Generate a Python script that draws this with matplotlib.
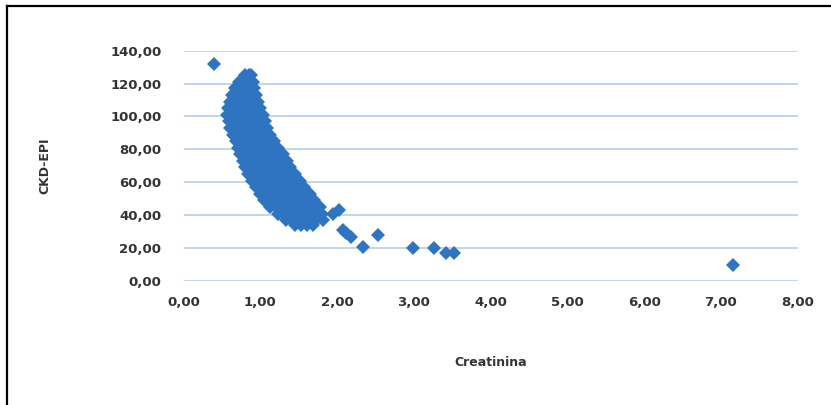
import matplotlib
matplotlib.use("Agg")
import matplotlib.pyplot as plt
from matplotlib.lines import Line2D
from matplotlib.ticker import FuncFormatter

# main band of the scatter, one row per CKD-EPI level
creatinina = [
    0.80, 0.85, 0.88,
    0.72, 0.78, 0.84, 0.90,
    0.67, 0.73, 0.79, 0.85, 0.92,
    0.63, 0.69, 0.75, 0.81, 0.87, 0.94,
    0.60, 0.66, 0.72, 0.78, 0.84, 0.90, 0.97,
    0.58, 0.64, 0.70, 0.76, 0.82, 0.88, 0.94, 1.00,
    0.57, 0.63, 0.69, 0.75, 0.81, 0.87, 0.93, 0.99, 1.03,
    0.59, 0.65, 0.71, 0.77, 0.83, 0.89, 0.95, 1.01, 1.06,
    0.61, 0.67, 0.73, 0.79, 0.85, 0.91, 0.97, 1.03, 1.09,
    0.64, 0.70, 0.76, 0.82, 0.88, 0.94, 1.00, 1.06, 1.13,
    0.68, 0.74, 0.80, 0.86, 0.92, 0.98, 1.04, 1.10, 1.18,
    0.71, 0.77, 0.83, 0.89, 0.95, 1.01, 1.07, 1.14, 1.23,
    0.74, 0.80, 0.86, 0.92, 0.98, 1.04, 1.10, 1.17, 1.29,
    0.77, 0.83, 0.89, 0.95, 1.01, 1.07, 1.14, 1.22, 1.34,
    0.80, 0.86, 0.92, 0.98, 1.05, 1.12, 1.19, 1.27, 1.39,
    0.84, 0.90, 0.97, 1.04, 1.11, 1.18, 1.25, 1.33, 1.45,
    0.89, 0.96, 1.03, 1.10, 1.17, 1.24, 1.31, 1.39, 1.51,
    0.94, 1.01, 1.08, 1.16, 1.24, 1.32, 1.40, 1.48, 1.57,
    0.99, 1.07, 1.15, 1.23, 1.31, 1.39, 1.47, 1.55, 1.64,
    1.05, 1.13, 1.21, 1.29, 1.37, 1.45, 1.53, 1.61, 1.70,
    1.12, 1.20, 1.28, 1.36, 1.44, 1.52, 1.60, 1.68, 1.77,
    1.23, 1.31, 1.39, 1.47, 1.55, 1.63, 1.71, 1.80,
    1.33, 1.41, 1.49, 1.57, 1.65, 1.73, 1.82,
    1.45, 1.53, 1.61, 1.69,
]
ckd_epi = (
    [125] * 3 + [121] * 4 + [117] * 5 + [113] * 6 + [109] * 7 + [105] * 8
    + [101] * 9 + [97] * 9 + [93] * 9 + [89] * 9 + [85] * 9 + [81] * 9
    + [77] * 9 + [73] * 9 + [69] * 9 + [65] * 9 + [61] * 9 + [57] * 9
    + [53] * 9 + [49] * 9 + [45] * 9 + [41] * 8 + [37] * 7 + [34] * 4
)

# isolated points
creat_out = [0.40, 1.95, 2.02, 2.07, 2.12, 2.18, 2.33, 2.53, 2.99, 3.26, 3.42, 3.52, 7.15]
ckd_out = [132, 41, 43, 31, 29, 27, 21, 28, 20, 20, 17, 17, 10]

y_ticks = [0, 20, 40, 60, 80, 100, 120, 140]
x_ticks = [0, 1, 2, 3, 4, 5, 6, 7, 8]

blue = "#2f74c0"
grid_col = "#bcd4e8"
txt = "#333333"

fig = plt.figure(figsize=(8.31, 4.05), dpi=100)
ax = fig.add_axes([0.221, 0.306, 0.739, 0.569])

ax.plot(creatinina, ckd_epi, "D", color=blue, markersize=6.8, markeredgewidth=0, zorder=3)
ax.plot(creat_out, ckd_out, "D", color=blue, markersize=6.8, markeredgewidth=0, zorder=3)

ax.set_xlim(0, 8)
ax.set_ylim(0, 140)
ax.set_xticks(x_ticks)
ax.set_yticks(y_ticks)
fmt = FuncFormatter(lambda v, p: f"{v:.2f}".replace(".", ","))
ax.xaxis.set_major_formatter(fmt)
ax.yaxis.set_major_formatter(fmt)

ax.yaxis.grid(True, color=grid_col, linewidth=1.3)
ax.set_axisbelow(True)
for s in ax.spines.values():
    s.set_visible(False)
ax.tick_params(length=0, labelsize=9.5, labelcolor=txt)
ax.tick_params(axis="y", pad=16)
ax.tick_params(axis="x", pad=11)
for lab in ax.get_xticklabels() + ax.get_yticklabels():
    lab.set_fontweight("bold")

fig.text(0.054, 0.59, "CKD-EPI", rotation=90, ha="center", va="center",
         fontsize=9, fontweight="bold", color=txt)
fig.text(0.591, 0.106, "Creatinina", ha="center", va="center",
         fontsize=9, fontweight="bold", color=txt)

# frame around the figure (only left and top visible)
fig.add_artist(Line2D([0.008, 0.008], [0, 0.984], transform=fig.transFigure, color="black", linewidth=1.6))
fig.add_artist(Line2D([0.008, 1.0], [0.984, 0.984], transform=fig.transFigure, color="black", linewidth=1.6))

fig.savefig("out.png", dpi=100)
